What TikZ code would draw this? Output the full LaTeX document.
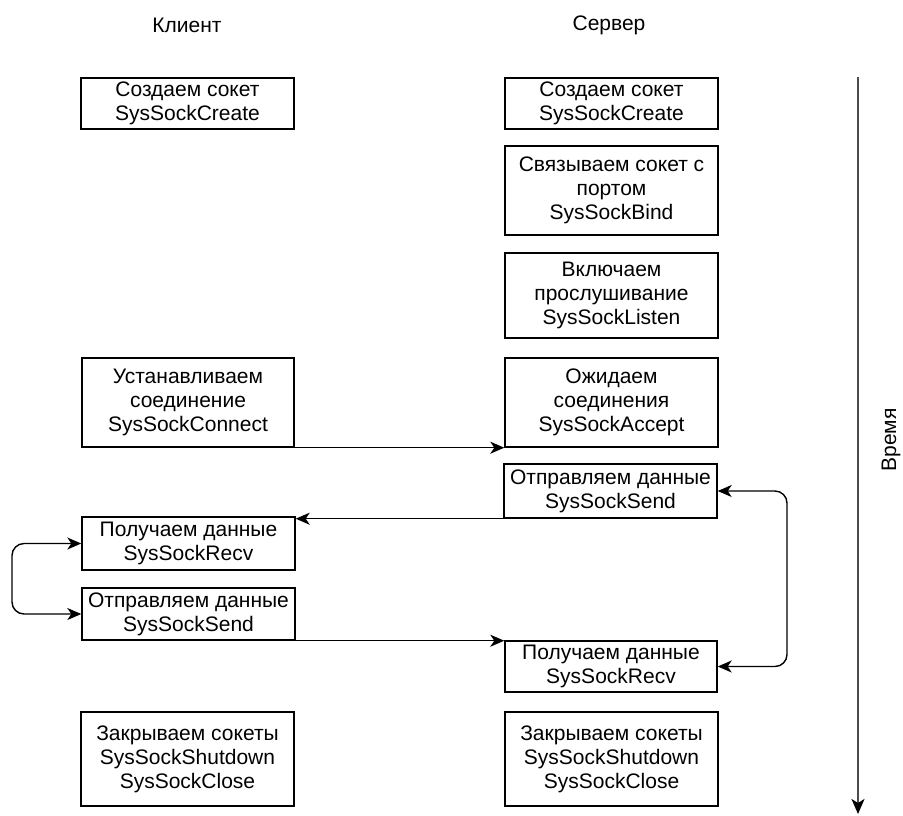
\documentclass[tikz,border=0pt]{standalone}
\usepackage{fontspec}
\setmainfont{Liberation Sans}
\usetikzlibrary{arrows.meta}
\begin{document}
\begin{tikzpicture}[x=1pt,y=-1pt,
  txt/.style={inner sep=0pt,align=center,font=\fontsize{21}{24}\selectfont},
  box/.style={txt,draw=black,line width=1.4pt},
  flow/.style={line width=1.4pt,-{Stealth[length=14pt,width=12pt,inset=4pt]}},
  loop/.style={line width=1.4pt,rounded corners=12pt,{Stealth[length=14pt,width=12pt,inset=4pt]}-{Stealth[length=14pt,width=12pt,inset=4pt]}},
  timeline/.style={line width=2pt,draw=black!70,-{Stealth[length=15pt,width=13pt,inset=4pt,black]}}
]
\useasboundingbox (0,0) rectangle (903,815);

\node[txt] (hc) at (187,25) {Клиент};
\node[txt] (hs) at (609,25) {Сервер};

\node[box,minimum width=213pt,minimum height=51pt] (c1) at (187.5,103.5) {Создаем сокет\\SysSockCreate};
\node[box,minimum width=213pt,minimum height=51pt] (s1) at (611.5,103.5) {Создаем сокет\\SysSockCreate};
\node[box,minimum width=213pt,minimum height=89pt] (s2) at (611.5,190.5) {Связываем сокет с\\портом\\SysSockBind};
\node[box,minimum width=213pt,minimum height=85pt] (s3) at (611.5,295.5) {Включаем\\прослушивание\\SysSockListen};
\node[box,minimum width=212pt,minimum height=89pt] (c2) at (188,402.5) {Устанавливаем\\соединение\\SysSockConnect};
\node[box,minimum width=213pt,minimum height=89pt] (s4) at (611.5,402.5) {Ожидаем\\соединения\\SysSockAccept};
\node[box,minimum width=213pt,minimum height=54pt] (s5) at (610.5,491) {Отправляем данные\\SysSockSend};
\node[box,minimum width=213pt,minimum height=53pt] (c3) at (188.5,543.5) {Получаем данные\\SysSockRecv};
\node[box,minimum width=213pt,minimum height=52pt] (c4) at (188.5,614) {Отправляем данные\\SysSockSend};
\node[box,minimum width=212pt,minimum height=51pt] (s6) at (611,666.5) {Получаем данные\\SysSockRecv};
\node[box,minimum width=213pt,minimum height=94pt] (c5) at (187.5,759) {Закрываем сокеты\\SysSockShutdown\\SysSockClose};
\node[box,minimum width=213pt,minimum height=94pt] (s7) at (611.5,759) {Закрываем сокеты\\SysSockShutdown\\SysSockClose};

\draw[flow] (c2.south east) -- (s4.south west);
\draw[flow] (s5.south west) -- (s5.south west -| c3.east);
\draw[flow] (c4.south east) -- (c4.south east -| s6.west);

\coordinate (rx) at (787,0);
\coordinate (lx) at (12,0);
\draw[loop] (s6.east) -- (s6.east -| rx) -- (s5.east -| rx) -- (s5.east);
\draw[loop] (c3.west) -- (c3.west -| lx) -- (c4.west -| lx) -- (c4.west);

\coordinate (t0) at (858,77);
\coordinate (t1) at (858,814);
\draw[timeline] (t0) -- (t1);
\node[txt,rotate=90] (tl) at (891,440) {Время};
\end{tikzpicture}
\end{document}
